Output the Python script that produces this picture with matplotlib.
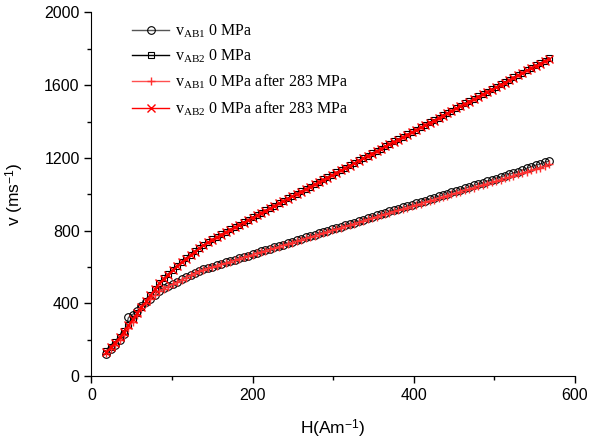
import matplotlib
matplotlib.use("Agg")
import matplotlib.pyplot as plt
from matplotlib.ticker import MultipleLocator

plt.rcParams['font.family'] = ['Liberation Sans', 'DejaVu Sans']
plt.rcParams['mathtext.fontset'] = 'custom'
plt.rcParams['mathtext.rm'] = 'Liberation Serif'
plt.rcParams['mathtext.it'] = 'Liberation Serif:italic'
plt.rcParams['mathtext.sf'] = 'Liberation Sans'

# field values H (A/m)
H = [18, 24, 29, 35, 40, 46, 51, 57, 62, 68, 73, 79, 84, 90, 95, 101, 106, 112, 117, 123,
     128, 134, 139, 145, 150, 156, 161, 167, 172, 178, 183, 189, 194, 200, 205, 211, 216, 222,
     227, 233, 238, 244, 249, 255, 260, 266, 271, 277, 282, 288, 293, 299, 304, 310, 315, 321,
     326, 332, 337, 343, 348, 354, 359, 365, 370, 376, 381, 387, 392, 398, 403, 409, 414, 420,
     425, 431, 436, 442, 447, 453, 458, 464, 469, 475, 480, 486, 491, 497, 502, 508, 513, 519,
     524, 530, 535, 541, 546, 552, 557, 563, 568]

# v_AB1 at 0 MPa (circles)
v_ab1 = [121, 148, 172, 200, 232, 322, 338, 358, 385, 405, 425, 448, 470, 484, 495, 508, 519, 532, 543, 556,
         567, 580, 587, 595, 602, 610, 617, 625, 632, 640, 647, 655, 662, 670, 678, 686, 693, 701,
         708, 716, 723, 732, 738, 747, 754, 762, 769, 777, 784, 792, 799, 807, 814, 822, 829, 837,
         844, 852, 859, 868, 874, 883, 890, 898, 905, 913, 920, 928, 935, 943, 950, 958, 965, 974,
         980, 989, 996, 1004, 1011, 1019, 1026, 1034, 1041, 1049, 1056, 1064, 1071, 1080, 1086, 1095, 1102, 1110,
         1117, 1125, 1132, 1143, 1152, 1160, 1166, 1176, 1182]

# v_AB2 at 0 MPa (squares)
v_ab2 = [135, 160, 185, 215, 245, 280, 312, 347, 378, 412, 445, 480, 512, 538, 560, 585, 606, 628, 647, 667,
         686, 706, 721, 737, 751, 766, 779, 794, 806, 820, 832, 846, 859, 873, 885, 899, 911, 925,
         937, 952, 963, 978, 990, 1004, 1016, 1030, 1042, 1056, 1068, 1082, 1094, 1108, 1120, 1134, 1146, 1160,
         1172, 1187, 1199, 1213, 1225, 1239, 1251, 1265, 1277, 1291, 1303, 1317, 1329, 1343, 1355, 1370, 1381, 1396,
         1407, 1422, 1434, 1448, 1460, 1474, 1486, 1500, 1512, 1526, 1538, 1552, 1564, 1578, 1590, 1605, 1616, 1631,
         1643, 1657, 1669, 1683, 1695, 1709, 1721, 1735, 1750]

# v_AB1 at 0 MPa after 283 MPa (plus)
v_ab1_after = [125, 150, 172, 198, 228, 262, 298, 338, 372, 402, 424, 446, 467, 481, 492, 505, 516, 529, 540, 553,
               564, 577, 584, 592, 599, 607, 614, 622, 629, 637, 644, 652, 659, 667, 675, 682, 689, 697,
               704, 712, 719, 727, 734, 742, 749, 757, 764, 772, 779, 787, 794, 801, 808, 816, 823, 831,
               838, 846, 853, 861, 868, 876, 883, 891, 897, 905, 912, 920, 927, 934, 941, 949, 956, 964,
               971, 979, 986, 993, 1000, 1008, 1015, 1023, 1030, 1037, 1044, 1052, 1059, 1067, 1073, 1081, 1088, 1096,
               1103, 1111, 1117, 1125, 1132, 1140, 1146, 1155, 1165]

# v_AB2 at 0 MPa after 283 MPa (x)
v_ab2_after = [130, 158, 184, 213, 244, 278, 311, 345, 377, 410, 443, 478, 510, 536, 558, 583, 604, 626, 645, 665,
               684, 704, 719, 735, 750, 764, 778, 792, 805, 818, 831, 844, 858, 871, 883, 897, 909, 923,
               935, 950, 961, 976, 988, 1002, 1014, 1028, 1040, 1054, 1066, 1080, 1092, 1106, 1118, 1132, 1144, 1158,
               1170, 1185, 1197, 1211, 1223, 1237, 1249, 1263, 1275, 1289, 1301, 1315, 1327, 1341, 1353, 1368, 1379, 1394,
               1405, 1420, 1432, 1446, 1458, 1472, 1484, 1498, 1510, 1524, 1536, 1550, 1562, 1576, 1588, 1603, 1614, 1629,
               1641, 1655, 1667, 1681, 1693, 1707, 1719, 1733, 1746]

fig = plt.figure(figsize=(5.9, 4.46), dpi=100)
ax = fig.add_axes([0.155, 0.157, 0.819, 0.815])

ax.plot(H, v_ab1, color='#555555', lw=1, marker='o', ms=5.5, mfc='none', mec='black', mew=0.8,
        label=r'v$_{\mathrm{AB1}}$ 0 MPa')
ax.plot(H, v_ab2, color='black', lw=1, marker='s', ms=5, mfc='none', mec='black', mew=0.8,
        label=r'v$_{\mathrm{AB2}}$ 0 MPa')
ax.plot(H, v_ab1_after, color='#ff5050', lw=1, marker='+', ms=6, mec='#ff3030', mew=1,
        label=r'v$_{\mathrm{AB1}}$ 0 MPa after 283 MPa')
ax.plot(H, v_ab2_after, color='red', lw=1, marker='x', ms=5.5, mec='red', mew=1,
        label=r'v$_{\mathrm{AB2}}$ 0 MPa after 283 MPa')

ax.set_xlim(0, 600)
ax.set_ylim(0, 2000)
ax.xaxis.set_major_locator(MultipleLocator(200))
ax.xaxis.set_minor_locator(MultipleLocator(100))
ax.yaxis.set_major_locator(MultipleLocator(400))
ax.yaxis.set_minor_locator(MultipleLocator(200))
ax.spines['top'].set_visible(False)
ax.spines['right'].set_visible(False)
ax.tick_params(which='major', direction='out', length=5, width=1, labelsize=11.5)
ax.tick_params(which='minor', direction='out', length=3, width=1)

ax.set_xlabel(r'H(Am$^{\mathsf{-1}}$)', fontsize=12.5, labelpad=11)
ax.set_ylabel(r'v (ms$^{\mathsf{-1}}$)', fontsize=12.5, labelpad=13)

leg = ax.legend(loc='upper left', bbox_to_anchor=(0.055, 1.013), frameon=False,
                prop={'family': 'Liberation Serif', 'size': 11.5}, handlelength=2.3,
                handletextpad=0.35, labelspacing=0.5)

fig.savefig('out.png', dpi=100)
